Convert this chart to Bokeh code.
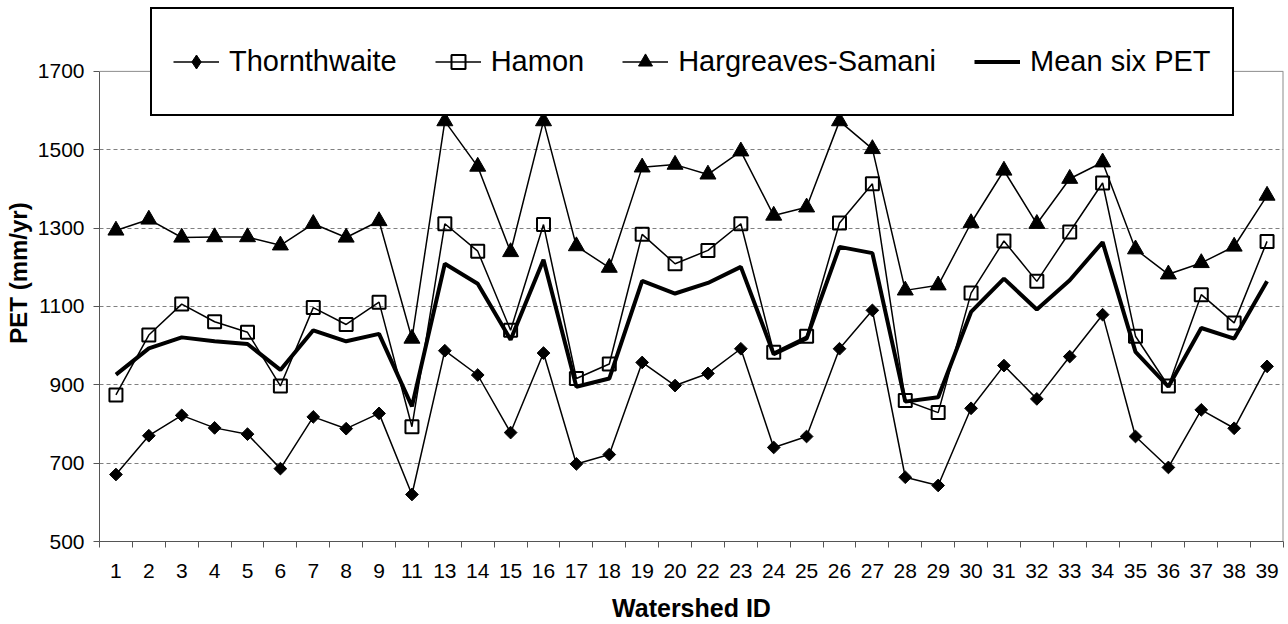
import numpy as np
from bokeh.plotting import figure
from bokeh.models import Range1d, FixedTicker, Legend, LegendItem, Span
from bokeh.embed import file_html
from bokeh.resources import INLINE

ids = ["1", "2", "3", "4", "5", "6", "7", "8", "9", "11", "13", "14", "15", "16",
       "17", "18", "19", "20", "22", "23", "24", "25", "26", "27", "28", "29", "30",
       "31", "32", "33", "34", "35", "36", "37", "38", "39"]

thornthwaite = [671, 770, 822, 790, 774, 686, 818, 788, 827, 620, 987, 925, 778, 981,
                698, 722, 957, 898, 929, 992, 740, 768, 992, 1090, 664, 643, 840,
                949, 864, 972, 1079, 768, 689, 836, 789, 947]
hamon = [874, 1027, 1106, 1061, 1034, 897, 1097, 1054, 1111, 793, 1311, 1241, 1039, 1309,
         916, 953, 1284, 1209, 1243, 1311, 983, 1024, 1313, 1413, 860, 829, 1134,
         1267, 1164, 1290, 1415, 1024, 897, 1130, 1058, 1266]
hargreaves = [1294, 1322, 1276, 1277, 1277, 1256, 1311, 1276, 1318, 1018, 1573, 1457, 1239, 1573,
              1254, 1199, 1455, 1462, 1437, 1496, 1332, 1353, 1573, 1502, 1141, 1154, 1313,
              1447, 1311, 1426, 1468, 1246, 1182, 1211, 1253, 1383]
mean_six = [926, 993, 1021, 1011, 1004, 938, 1039, 1011, 1030, 845, 1209, 1158, 1015, 1219,
            895, 916, 1165, 1133, 1160, 1201, 978, 1018, 1252, 1236, 857, 868, 1086,
            1171, 1092, 1167, 1264, 984, 895, 1045, 1018, 1164]

y_ticks = [500, 700, 900, 1100, 1300, 1500, 1700]
grid_ticks = [700, 900, 1100, 1300, 1500]

FONT = "Liberation Sans"
AXIS_COLOR = "#555555"
BORDER_COLOR = "#8c8c8c"
n = len(ids)
xc = np.arange(n) + 0.5

# frame spans up to the legend box; 1700 sits where the plot-area border is
y_top = 1870.7

p = figure(width=1288, height=624, output_backend="svg", toolbar_location=None,
           x_range=Range1d(0, n), y_range=Range1d(500, y_top),
           min_border_left=99, min_border_right=5, min_border_top=4, min_border_bottom=82)
p.background_fill_color = "white"
p.border_fill_color = "white"
p.outline_line_color = None

# x axis: labels at centres, ticks at category boundaries
xa = p.xaxis[0]
xa.ticker = FixedTicker(ticks=[float(v) for v in xc], minor_ticks=list(range(n + 1)))
xa.major_label_overrides = {float(v): lab for v, lab in zip(xc, ids)}
xa.major_tick_line_color = None
xa.minor_tick_line_color = AXIS_COLOR
xa.minor_tick_in = 0
xa.minor_tick_out = 6
xa.axis_line_color = AXIS_COLOR
xa.major_label_text_font = FONT
xa.major_label_text_font_size = "21px"
xa.major_label_text_color = "black"
xa.major_label_standoff = 16
xa.axis_label = "Watershed ID"
xa.axis_label_text_font = FONT
xa.axis_label_text_font_size = "25px"
xa.axis_label_text_font_style = "bold"
xa.axis_label_text_color = "black"
xa.axis_label_standoff = 13

ya = p.yaxis[0]
ya.ticker = FixedTicker(ticks=y_ticks)
ya.bounds = (y_ticks[0], y_ticks[-1])
ya.major_tick_in = 0
ya.major_tick_out = 6
ya.major_tick_line_color = AXIS_COLOR
ya.minor_tick_line_color = None
ya.axis_line_color = AXIS_COLOR
ya.major_label_text_font = FONT
ya.major_label_text_font_size = "21px"
ya.major_label_text_color = "black"
ya.major_label_standoff = 9
ya.axis_label = "PET (mm/yr)"
ya.axis_label_text_font = FONT
ya.axis_label_text_font_size = "24px"
ya.axis_label_text_font_style = "bold"
ya.axis_label_text_color = "black"
ya.axis_label_standoff = 3

p.xgrid.visible = False
p.ygrid.ticker = FixedTicker(ticks=grid_ticks)
p.ygrid.grid_line_color = "#808080"
p.ygrid.grid_line_dash = "4 3"
p.ygrid.grid_line_width = 1

# plot-area border (top at 1700, right side)
p.add_layout(Span(location=y_ticks[-1], dimension="width",
                  line_color=BORDER_COLOR, line_width=1))
p.segment(x0=[n], y0=[y_ticks[0]], x1=[n], y1=[y_ticks[-1]],
          line_color=BORDER_COLOR, line_width=2)

# series
t_line = p.line(xc, thornthwaite, line_color="black", line_width=1.5)
p.scatter(xc, thornthwaite, marker="square", angle=np.pi / 4, size=9,
          fill_color="black", line_color="black")
t_leg = p.scatter(xc, thornthwaite, marker="diamond", size=14,
                  fill_color="black", line_color="black", visible=False)

h_line = p.line(xc, hamon, line_color="black", line_width=1.5)
h_pts = p.scatter(xc, hamon, marker="square", size=13, fill_color=None,
                  line_color="black", line_width=2)

g_line = p.line(xc, hargreaves, line_color="black", line_width=1.5)
g_pts = p.scatter(xc, hargreaves, marker="triangle", size=16,
                  fill_color="black", line_color="black")

m_line = p.line(xc, mean_six, line_color="black", line_width=4)

legend = Legend(items=[
    LegendItem(label="Thornthwaite", renderers=[t_line, t_leg]),
    LegendItem(label="Hamon", renderers=[h_line, h_pts]),
    LegendItem(label="Hargreaves-Samani", renderers=[g_line, g_pts]),
    LegendItem(label="Mean six PET", renderers=[m_line]),
], location=(51, 425), orientation="horizontal")
legend.spacing = 38
legend.padding = 21
legend.margin = 0
legend.label_standoff = 10
legend.glyph_width = 46
legend.glyph_height = 35
legend.label_height = 63
legend.label_text_font = FONT
legend.label_text_font_size = "29px"
legend.label_text_color = "black"
legend.border_line_color = "black"
legend.border_line_width = 2
legend.border_line_alpha = 1.0
legend.background_fill_color = "white"
legend.background_fill_alpha = 1.0
legend.inactive_fill_alpha = 0.0
p.add_layout(legend)

open("out.html", "w").write(file_html(p, INLINE))
